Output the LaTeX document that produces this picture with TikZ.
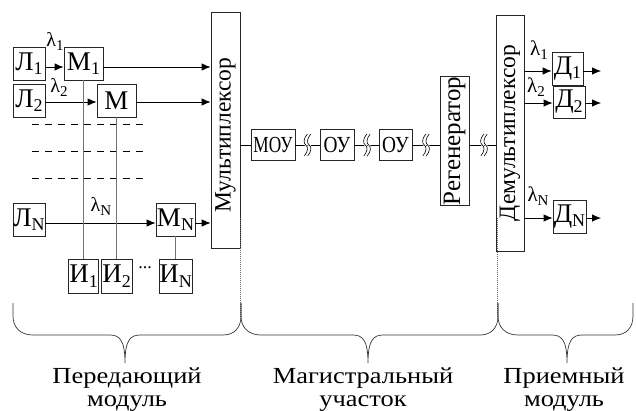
\documentclass[tikz,border=0pt]{standalone}
\usepackage{fontspec}
\setmainfont{Liberation Serif}
\newfontfamily\widefont{Liberation Serif}[FakeStretch=1.15]
\usepackage{graphicx}
\usetikzlibrary{arrows.meta}

\newcommand\boxfont{\fontsize{27}{27}\selectfont}
\newcommand\linefont{\fontsize{23}{23}\selectfont}
\newcommand\rotfont{\fontsize{23.5}{23.5}\selectfont}
\newcommand\lamfont{\fontsize{20}{20}\selectfont}
\newcommand\ssub[1]{\raisebox{-4.5pt}{\fontsize{18}{18}\selectfont#1}}
\newcommand\lsub[1]{\raisebox{-4pt}{\fontsize{15}{15}\selectfont#1}}

\tikzset{
  blk/.style={draw=black!85, line width=0.8pt, inner sep=0pt, font=\boxfont},
  lineblk/.style={blk, font=\linefont},
  rotblk/.style={blk, font=\rotfont},
  lam/.style={inner sep=0pt, font=\lamfont},
  sig/.style={line width=0.8pt, -{Latex[length=9pt,width=7.5pt]}},
  wire/.style={line width=0.8pt},
  tap/.style={line width=0.8pt, draw=black!55},
  guide/.style={line width=0.7pt, dash pattern=on 7pt off 6pt},
  bound/.style={line width=0.6pt, draw=black!60, dash pattern=on 1pt off 1pt},
  brace/.style={line width=0.7pt, draw=black!80},
  caption/.style={inner sep=0pt, font=\widefont\fontsize{23}{23}\selectfont},
  brk/.pic={
    \foreach \dx in {-1.7,1.7} {
      \draw[white, line width=2pt, shift={(\dx,0)}]
        (1.5,-11) .. controls (-2.5,-6) and (-2.5,-2) .. (0,0)
        .. controls (2.5,2) and (2.5,6) .. (-1.5,11);
    }
    \foreach \dx in {-1.7,1.7} {
      \draw[line width=0.6pt, shift={(\dx,0)}]
        (1.5,-11) .. controls (-2.5,-6) and (-2.5,-2) .. (0,0)
        .. controls (2.5,2) and (2.5,6) .. (-1.5,11);
    }
  }
}

\begin{document}
\begin{tikzpicture}[x=1pt, y=-1pt]
\useasboundingbox (0,0) rectangle (636,410);

% ---------- transmitting module ----------
\node[blk, minimum width=32, minimum height=33] (l1) at (29,63.5) {Л\ssub{1}};
\node[blk, minimum width=39, minimum height=33] (m1) at (83.5,63.5) {М\ssub{1}};
\node[blk, minimum width=32, minimum height=33] (l2) at (29,100.5) {Л\ssub{2}};
\node[blk, minimum width=39, minimum height=33] (m2) at (116.5,100.5) {М};
\node[blk, minimum width=32, minimum height=33] (lN) at (29,219.5) {Л\ssub{N}};
\node[blk, minimum width=39, minimum height=33] (mN) at (175.5,219.5) {М\ssub{N}};

\node[blk, minimum width=30, minimum height=34] (i1) at (83.5,276) {И\ssub{1}};
\node[blk, minimum width=31, minimum height=34] (i2) at (116.5,276) {И\ssub{2}};
\node[blk, minimum width=33, minimum height=34] (iN) at (175.5,276) {И\ssub{N}};
\node[inner sep=0pt, font=\fontsize{18}{18}\selectfont] (dots) at (145,268) {...};

\node[lam] (lam1) at (55,41) {λ\lsub{1}};
\node[lam] (lam2) at (59,87) {λ\lsub{2}};
\node[lam] (lamN) at (101,206) {λ\lsub{N}};

% channel separators
\draw[guide] (32,124) -- (147,124);
\draw[guide] (32,151) -- (147,151);
\draw[guide] (32,178) -- (147,178);

\node[rotblk, minimum width=29, minimum height=236] (mux) at (225.5,130)
  {\rotatebox{90}{Мультиплексор\hspace{10pt}}};

% ---------- line section ----------
\node[lineblk, minimum width=44, minimum height=31] (mou) at (273,145)
  {\scalebox{0.75}[1]{МОУ}};
\node[lineblk, minimum width=34, minimum height=31] (ou1) at (337,145)
  {\scalebox{0.84}[1]{ОУ}};
\node[lineblk, minimum width=33, minimum height=31] (ou2) at (395.5,145)
  {\scalebox{0.84}[1]{ОУ}};
\node[rotblk, font=\fontsize{25}{25}\selectfont, minimum width=29, minimum height=126]
  (reg) at (454.5,141) {\rotatebox{90}{Регенератор}};

% ---------- receiving module ----------
\node[rotblk, minimum width=28, minimum height=236] (dmx) at (510,133)
  {\rotatebox{90}{Демультиплексор}};
\node[blk, minimum width=31, minimum height=33] (d1) at (567.5,68.5) {Д\ssub{1}};
\node[blk, minimum width=32, minimum height=32] (d2) at (569,102) {Д\ssub{2}};
\node[blk, minimum width=33, minimum height=33] (dN) at (569.5,216.5) {Д\ssub{N}};

\node[lam, font=\fontsize{21}{21}\selectfont] (rlam1) at (539,50) {λ\lsub{1}};
\node[lam, font=\fontsize{21}{21}\selectfont] (rlam2) at (536,87) {λ\lsub{2}};
\node[lam, font=\fontsize{21}{21}\selectfont] (rlamN) at (538,196) {λ\lsub{N}};

% ---------- signal paths into the multiplexer ----------
\coordinate (l1o) at ([yshift=-3.5pt]l1.east);
\coordinate (m1i) at ([yshift=-3.5pt]m1.west);
\coordinate (m1o) at ([yshift=-3.5pt]m1.east);
\coordinate (l2o) at ([yshift=-1.5pt]l2.east);
\coordinate (m2i) at ([yshift=-1.5pt]m2.west);
\coordinate (m2o) at ([yshift=-1.5pt]m2.east);
\coordinate (lNo) at ([yshift=-3.5pt]lN.east);
\coordinate (mNi) at ([yshift=-3.5pt]mN.west);
\coordinate (mNo) at ([yshift=-3.5pt]mN.east);

\draw[sig] (l1o) -- (m1i);
\draw[sig] (m1o) -- (m1o -| mux.west);
\draw[sig] (l2o) -- (m2i);
\draw[sig] (m2o) -- (m2o -| mux.west);
\draw[sig] (lNo) -- (mNi);
\draw[sig] (mNo) -- (mNo -| mux.west);

% information sources feeding the modulators
\draw[tap] (m1.south) -- (m1.south |- i1.north);
\draw[tap] (m2.south) -- (m2.south |- i2.north);
\draw[tap] (mN.south) -- (mN.south |- iN.north);

% ---------- fibre line with breaks ----------
\coordinate (b1) at (307.5,145);
\coordinate (b2) at (367,145);
\coordinate (b3) at (426,145);
\coordinate (b4) at (484,145);

\draw[wire] (mux.east |- mou.west) -- (mou.west);
\draw[wire] (mou.east) -- (b1);
\draw[wire] (b1) -- (ou1.west);
\draw[wire] (ou1.east) -- (b2);
\draw[wire] (b2) -- (ou2.west);
\draw[wire] (ou2.east) -- (b3);
\draw[wire] (b3) -- (reg.west |- b3);
\draw[wire] (reg.east |- b4) -- (b4);
\draw[wire] (b4) -- (dmx.west |- b4);

\pic at (b1) {brk};
\pic at (b2) {brk};
\pic at (b3) {brk};
\pic at (b4) {brk};

% ---------- demultiplexer outputs ----------
\coordinate (d1i) at ([yshift=-2.5pt]d1.west);
\coordinate (d1o) at ([yshift=-2.5pt]d1.east);
\coordinate (d2i) at ([yshift=-1pt]d2.west);
\coordinate (d2o) at ([yshift=-1pt]d2.east);
\coordinate (dNi) at ([yshift=-1.5pt]dN.west);
\coordinate (dNo) at ([yshift=-1.5pt]dN.east);
\coordinate (e1) at (601,71);
\coordinate (e2) at (601,103);
\coordinate (eN) at (601,218);

\draw[sig] (d1i -| dmx.east) -- (d1i);
\draw[sig] (d2i -| dmx.east) -- (d2i);
\draw[sig] (dNi -| dmx.east) -- (dNi);
\draw[sig] (d1o) -- (e1);
\draw[sig] (d2o) -- (e2);
\draw[sig] (dNo) -- (eN);

% ---------- section boundaries ----------
\draw[bound] (240.5,218) -- (240.5,318);
\draw[bound] (497.5,218) -- (497.5,318);

% ---------- braces ----------
\foreach \L/\C/\R in {13/125/241, 241/368/498, 498/567/633} {
  \draw[brace]
    (\L,303) -- (\L,316)
    .. controls (\L,328) and (\L+8,335) .. (\L+20,335)
    -- (\C-15,335)
    .. controls (\C-5,335) and (\C,341) .. (\C,363)
    .. controls (\C,341) and (\C+5,335) .. (\C+15,335)
    -- (\R-18,335)
    .. controls (\R-7,335) and (\R,328) .. (\R,316)
    -- (\R,303);
}

% ---------- section captions ----------
\node[caption, anchor=base] (c1a) at (127,383) {Передающий};
\node[caption, anchor=base] (c1b) at (127,406) {модуль};
\node[caption, anchor=base] (c2a) at (363,383) {Магистральный};
\node[caption, anchor=base] (c2b) at (363,406) {участок};
\node[caption, anchor=base] (c3a) at (564,383) {Приемный};
\node[caption, anchor=base] (c3b) at (564,406) {модуль};
\end{tikzpicture}
\end{document}
